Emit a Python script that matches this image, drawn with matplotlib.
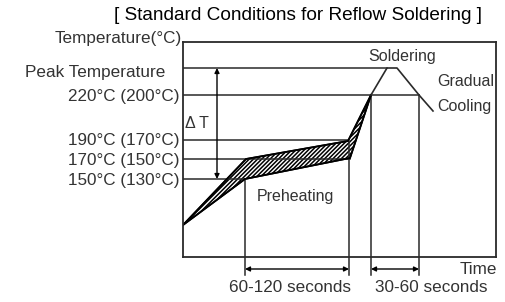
import matplotlib
matplotlib.use("Agg")
import matplotlib.pyplot as plt
from matplotlib.patches import Polygon

plt.rcParams['font.family'] = ['Liberation Sans', 'DejaVu Sans']
plt.rcParams['hatch.linewidth'] = 1.1

# Schematic profile (x: time units, y: temperature units, diagram scale)
upper_t = [0, 63, 165, 188]
upper_T = [32, 98, 116, 162]
lower_t = [0, 62, 167, 188]
lower_T = [32, 78, 99, 162]
peak_t = [188, 204, 214, 236, 250]
peak_T = [162, 189, 189, 162, 146]

# Reference levels
level_labels = ["Peak Temperature", "220°C (200°C)", "190°C (170°C)", "170°C (150°C)", "150°C (130°C)"]
level_T = [189, 162, 117, 98, 78]
level_end = [204, 236, 165, 167, 62]
label_y = [185, 160, 117, 96, 76]

# Time markers
mark_t = [62, 166, 188, 236]
mark_top = [78, 116, 162, 162]

LC = '#2a2a2a'
fig = plt.figure(figsize=(5.06, 3.02), dpi=100)
ax = fig.add_axes([183/506, 45/302, 313/506, 215/302])
ax.set_xlim(0, 313)
ax.set_ylim(0, 215)
ax.set_xticks([]); ax.set_yticks([])
for s in ax.spines.values():
    s.set_color(LC); s.set_linewidth(1.3)

for T, e in zip(level_T, level_end):
    ax.plot([0, e], [T, T], color=LC, lw=1.1)
for t, top in zip(mark_t, mark_top):
    ax.plot([t, t], [top, -18], color=LC, lw=1.1, clip_on=False)

poly_pts = list(zip(upper_t, upper_T)) + list(zip(lower_t[::-1], lower_T[::-1]))
ax.add_patch(Polygon(poly_pts, closed=True, facecolor='white', edgecolor='black', hatch='////////', lw=1.2))
ax.plot(upper_t, upper_T, color='black', lw=1.3)
ax.plot(lower_t, lower_T, color='black', lw=1.3)
ax.plot(peak_t, peak_T, color=LC, lw=1.2)

ap = dict(arrowstyle='<|-|>', color='black', lw=1.0, mutation_scale=7, shrinkA=0, shrinkB=0)
ax.annotate('', xy=(34, level_T[0]), xytext=(34, level_T[4]), arrowprops=ap, annotation_clip=False)
ax.annotate('', xy=(mark_t[0], -12), xytext=(mark_t[1], -12), arrowprops=ap, annotation_clip=False)
ax.annotate('', xy=(mark_t[2], -12), xytext=(mark_t[3], -12), arrowprops=ap, annotation_clip=False)

fs = 12.3
fi = 11.5
tc = '#333333'
ax.text(-1, 219, "Temperature(°C)", ha='right', va='center', fontsize=fs, color=tc, clip_on=False)
for lab, y in zip(level_labels, label_y):
    xr = -18 if lab.startswith("Peak") else -3
    ax.text(xr, y, lab, ha='right', va='center', fontsize=fs, color=tc, clip_on=False)

ax.text(14, 133, "Δ T", ha='center', va='center', fontsize=fi, color=tc)
ax.text(219, 200, "Soldering", ha='center', va='center', fontsize=fi, color=tc)
ax.text(254, 175, "Gradual", ha='left', va='center', fontsize=fi, color=tc)
ax.text(254, 150, "Cooling", ha='left', va='center', fontsize=fi, color=tc)
ax.text(112, 61, "Preheating", ha='center', va='center', fontsize=fi, color=tc)
ax.text(314, -13, "Time", ha='right', va='center', fontsize=fs, color=tc, clip_on=False)
ax.text(107, -30, "60-120 seconds", ha='center', va='center', fontsize=fs, color=tc, clip_on=False)
ax.text(248, -31, "30-60 seconds", ha='center', va='center', fontsize=fs, color=tc, clip_on=False)

fig.text(298/506, 1 - 15/302, "[ Standard Conditions for Reflow Soldering ]", ha='center', va='center',
         fontsize=13.7, color='black')

fig.savefig("out.png", dpi=100, facecolor='white')
